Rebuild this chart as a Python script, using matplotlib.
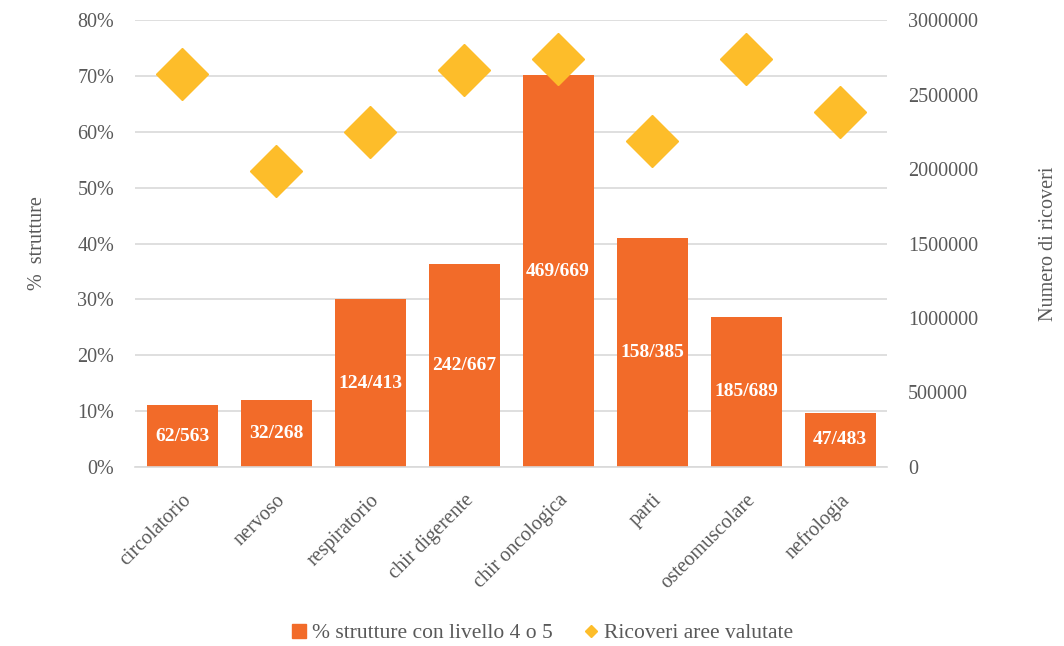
import matplotlib
matplotlib.use("Agg")
import matplotlib.pyplot as plt
from matplotlib.lines import Line2D
from matplotlib.ticker import FuncFormatter, MultipleLocator

categories = ["circolatorio", "nervoso", "respiratorio", "chir digerente",
              "chir oncologica", "parti", "osteomuscolare", "nefrologia"]
numerators = [62, 32, 124, 242, 469, 158, 185, 47]
denominators = [563, 268, 413, 667, 669, 385, 689, 483]
ricoveri = [2638000, 1987000, 2248000, 2664000, 2738000, 2188000, 2738000, 2383000]

pct = [n / d * 100 for n, d in zip(numerators, denominators)]
labels = [f"{n}/{d}" for n, d in zip(numerators, denominators)]

BAR = "#F26B29"
DIA = "#FDBD2A"
TXT = "#595959"
GRID = "#D9D9D9"
FONT = ["Liberation Serif", "DejaVu Serif"]
plt.rcParams["font.family"] = FONT
FS = 14.5

fig = plt.figure(figsize=(10.64, 6.46), dpi=100)
ax = fig.add_axes([0.1269, 0.2771, 0.7068, 0.6919])
ax2 = ax.twinx()

x = list(range(len(categories)))
ax.bar(x, pct, width=0.755, color=BAR, zorder=2)
for xi, p, lab in zip(x, pct, labels):
    ax.text(xi, p / 2, lab, ha="center", va="center", color="white",
            fontsize=14, fontweight="bold", zorder=3)

ax.set_ylim(0, 80)
ax.set_xlim(-0.5, len(categories) - 0.5)
ax.yaxis.set_major_locator(MultipleLocator(10))
ax.yaxis.set_major_formatter(FuncFormatter(lambda v, _: f"{v:.0f}%"))
ax.grid(axis="y", color=GRID, linewidth=1.2, zorder=0)
ax.set_axisbelow(True)

ax2.plot(x, ricoveri, linestyle="none", marker="D", markersize=26,
         color=DIA, zorder=4)
ax2.set_ylim(0, 3000000)
ax2.yaxis.set_major_locator(MultipleLocator(500000))
ax2.yaxis.set_major_formatter(FuncFormatter(lambda v, _: f"{v:.0f}"))

for a in (ax, ax2):
    for s in a.spines.values():
        s.set_visible(False)
    a.tick_params(length=0, labelsize=FS, labelcolor=TXT)
ax.spines["bottom"].set_visible(True)
ax.spines["bottom"].set_color(GRID)
ax.spines["bottom"].set_linewidth(1.2)
ax.tick_params(axis="y", pad=15)
ax2.tick_params(axis="y", pad=15)

ax.set_xticks(x)
ax.set_xticklabels(categories, rotation=45, ha="right", rotation_mode="anchor",
                   fontsize=FS, color=TXT)
ax.tick_params(axis="x", pad=17)

ax.set_ylabel("%  strutture", fontsize=FS, color=TXT, labelpad=22)
ax2.set_ylabel("Numero di ricoveri", fontsize=FS, color=TXT, labelpad=44)

handles = [
    Line2D([], [], linestyle="none", marker="s", markersize=10, color=BAR),
    Line2D([], [], linestyle="none", marker="D", markersize=6, color=DIA),
]
fig.legend(handles, ["% strutture con livello 4 o 5", "Ricoveri aree valutate"],
           loc="lower center", bbox_to_anchor=(0.508, -0.026), ncol=2, frameon=False,
           fontsize=15.5, labelcolor=TXT, handletextpad=0.1, columnspacing=1.3,
           handlelength=1.0)

fig.savefig("out.png", dpi=100)
